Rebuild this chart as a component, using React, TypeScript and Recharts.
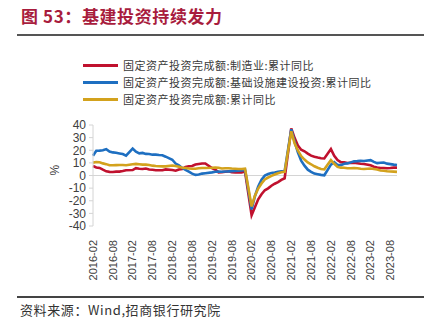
import { LineChart, Line, XAxis, YAxis, ReferenceLine } from "recharts";

// monthly cumulative data, Jan merged into Feb (no Jan points)
const dates = [
  "2016-02", "2016-03", "2016-04", "2016-05", "2016-06", "2016-07", "2016-08", "2016-09", "2016-10", "2016-11", "2016-12",
  "2017-02", "2017-03", "2017-04", "2017-05", "2017-06", "2017-07", "2017-08", "2017-09", "2017-10", "2017-11", "2017-12",
  "2018-02", "2018-03", "2018-04", "2018-05", "2018-06", "2018-07", "2018-08", "2018-09", "2018-10", "2018-11", "2018-12",
  "2019-02", "2019-03", "2019-04", "2019-05", "2019-06", "2019-07", "2019-08", "2019-09", "2019-10", "2019-11", "2019-12",
  "2020-02", "2020-03", "2020-04", "2020-05", "2020-06", "2020-07", "2020-08", "2020-09", "2020-10", "2020-11", "2020-12",
  "2021-02", "2021-03", "2021-04", "2021-05", "2021-06", "2021-07", "2021-08", "2021-09", "2021-10", "2021-11", "2021-12",
  "2022-02", "2022-03", "2022-04", "2022-05", "2022-06", "2022-07", "2022-08", "2022-09", "2022-10", "2022-11", "2022-12",
  "2023-02", "2023-03", "2023-04", "2023-05", "2023-06", "2023-07", "2023-08", "2023-09", "2023-10",
];

const manufacturing = [
  7.5, 6.4, 6.0, 4.6, 3.3, 2.9, 2.8, 3.1, 3.1, 3.6, 4.2,
  4.3, 5.8, 5.4, 5.1, 5.5, 4.8, 4.5, 4.2, 4.1, 4.1, 4.8,
  4.3, 3.8, 4.8, 5.2, 6.8, 7.3, 7.5, 8.7, 9.1, 9.5, 9.5,
  5.9, 4.6, 2.5, 2.7, 3.0, 3.3, 2.6, 2.5, 2.6, 2.5, 3.1,
  -31.5, -25.2, -18.8, -14.8, -11.7, -10.2, -8.1, -6.5, -5.3, -3.5, -2.2,
  37.3, 29.8, 23.8, 20.4, 19.2, 17.3, 15.7, 14.8, 14.2, 13.7, 13.5,
  20.9, 15.6, 12.2, 10.6, 10.4, 9.9, 10.0, 10.1, 9.7, 9.3, 9.1,
  8.1, 7.0, 6.4, 6.0, 6.0, 5.7, 5.9, 6.2, 6.2,
];

const infrastructure = [
  15.7, 19.6, 19.7, 20.0, 20.9, 19.0, 18.3, 18.0, 17.5, 17.0, 15.7,
  21.3, 18.8, 17.5, 17.9, 17.1, 17.0, 16.5, 16.5, 16.2, 16.0, 14.9,
  12.5, 9.5, 8.0, 6.0, 4.5, 3.0, 1.5, 0.5, 0.8, 1.5, 1.8,
  2.5, 3.0, 3.2, 3.0, 3.2, 3.3, 3.5, 3.7, 3.8, 4.0, 4.5,
  -26.9, -16.4, -8.8, -3.3, -0.1, 1.2, 2.0, 2.4, 3.0, 3.3, 3.4,
  36.6, 26.9, 18.4, 11.8, 7.8, 4.6, 2.9, 1.5, 1.0, 0.5, 0.2,
  8.6, 10.5, 8.3, 8.2, 9.3, 9.6, 10.4, 11.2, 11.4, 11.7, 11.5,
  12.2, 10.8, 9.8, 10.1, 10.2, 9.4, 9.0, 8.6, 8.3,
];

const total = [
  10.2, 10.7, 10.5, 9.6, 9.0, 8.1, 8.1, 8.2, 8.3, 8.3, 8.1,
  8.9, 9.2, 8.9, 8.6, 8.6, 8.3, 7.8, 7.5, 7.3, 7.2, 7.2,
  7.9, 7.5, 7.0, 6.1, 6.0, 5.5, 5.3, 5.4, 5.7, 5.9, 5.9,
  6.1, 6.3, 6.1, 5.6, 5.8, 5.7, 5.5, 5.4, 5.2, 5.2, 5.4,
  -24.5, -16.1, -10.3, -6.3, -3.1, -1.6, -0.3, 0.8, 1.8, 2.6, 2.9,
  35.0, 25.6, 19.9, 15.4, 12.6, 10.3, 8.9, 7.3, 6.1, 5.2, 4.9,
  12.2, 9.3, 6.8, 6.2, 6.1, 5.7, 5.8, 5.9, 5.8, 5.3, 5.1,
  5.5, 5.1, 4.7, 4.0, 3.8, 3.4, 3.2, 3.1, 2.9,
];

const tickDates = [
  "2016-02", "2016-08", "2017-02", "2017-08", "2018-02", "2018-08", "2019-02", "2019-08",
  "2020-02", "2020-08", "2021-02", "2021-08", "2022-02", "2022-08", "2023-02", "2023-08",
];

const yTicks = [-40, -30, -20, -10, 0, 10, 20, 30, 40];

const seriesNames = [
  "固定资产投资完成额:制造业:累计同比",
  "固定资产投资完成额:基础设施建设投资:累计同比",
  "固定资产投资完成额:累计同比",
];
const colors = ["#c0112e", "#1e6fc1", "#d3a21d"];

// months since 2016-02
const monthIndex = (d: string) => {
  const [y, m] = d.split("-").map(Number);
  return (y - 2016) * 12 + (m - 2);
};

const data = dates.map((d, i) => ({
  t: monthIndex(d),
  mfg: manufacturing[i],
  infra: infrastructure[i],
  total: total[i],
}));

const ticks = tickDates.map(monthIndex);
const labelFor: Record<number, string> = {};
tickDates.forEach((d) => (labelFor[monthIndex(d)] = d));

const XTick = (props: any) => {
  const { x, y, payload } = props;
  return (
    <text
      x={x}
      y={y}
      transform={`rotate(-90 ${x} ${y})`}
      textAnchor="end"
      dy="0.35em"
      fontSize={11}
      fill="#404040"
      fontFamily="'Liberation Sans', Arial, sans-serif"
    >
      {labelFor[payload.value]}
    </text>
  );
};

export default function App() {
  const font = "'Noto Sans CJK SC', sans-serif";
  return (
    <div
      style={{
        position: "fixed",
        left: 0,
        top: 0,
        width: 441,
        height: 328,
        background: "#fff",
        overflow: "hidden",
      }}
    >
      <div
        style={{
          position: "absolute",
          left: 21,
          top: 3,
          fontFamily: font,
          fontWeight: 700,
          fontSize: 17,
          letterSpacing: 0.6,
          color: "#a81c3d",
          whiteSpace: "nowrap",
        }}
      >
        图 53：基建投资持续发力
      </div>
      <div style={{ position: "absolute", left: 17, top: 34, width: 407, height: 2, background: "#555" }} />

      {seriesNames.map((name, i) => (
        <div
          key={name}
          style={{ position: "absolute", left: 83, top: 57 + i * 17, height: 16, display: "flex", alignItems: "center" }}
        >
          <div style={{ width: 35, height: 3, background: colors[i] }} />
          <span
            style={{
              marginLeft: 5,
              fontFamily: font,
              fontSize: 11,
              letterSpacing: 0.5,
              color: "#3a3a3a",
              whiteSpace: "nowrap",
            }}
          >
            {name}
          </span>
        </div>
      ))}

      <div style={{ position: "absolute", left: 0, top: 0 }}>
        <LineChart
          width={441}
          height={328}
          data={data}
          margin={{ top: 125, right: 44, bottom: 52, left: 53 }}
        >
          <XAxis
            dataKey="t"
            type="number"
            domain={[0, 92]}
            ticks={ticks}
            interval={0}
            axisLine={false}
            tickLine={false}
            height={50}
            tick={<XTick />}
            tickMargin={8}
          />
          <YAxis
            domain={[-40, 40]}
            ticks={yTicks}
            interval={0}
            width={40}
            axisLine={{ stroke: "#d4d4d4" }}
            tickLine={{ stroke: "#d4d4d4" }}
            tickSize={4}
            tickMargin={3}
            tick={{ fontSize: 12, fill: "#404040", fontFamily: "'Liberation Sans', Arial, sans-serif" }}
            label={{
              value: "%",
              angle: -90,
              position: "insideLeft",
              offset: 2,
              style: { fontSize: 12, fill: "#404040", fontFamily: "'Liberation Sans', Arial, sans-serif" },
            }}
          />
          <ReferenceLine y={0} stroke="#d4d4d4" strokeWidth={1} />
          <Line dataKey="mfg" stroke={colors[0]} strokeWidth={2.6} dot={false} isAnimationActive={false} />
          <Line dataKey="infra" stroke={colors[1]} strokeWidth={2.6} dot={false} isAnimationActive={false} />
          <Line dataKey="total" stroke={colors[2]} strokeWidth={2.6} dot={false} isAnimationActive={false} />
        </LineChart>
      </div>

      <div style={{ position: "absolute", left: 17, top: 296, width: 407, height: 2, background: "#444" }} />
      <div
        style={{
          position: "absolute",
          left: 20,
          top: 300,
          fontFamily: font,
          fontSize: 13,
          letterSpacing: 0.6,
          color: "#333",
          whiteSpace: "nowrap",
        }}
      >
        资料来源：Wind,招商银行研究院
      </div>
    </div>
  );
}
